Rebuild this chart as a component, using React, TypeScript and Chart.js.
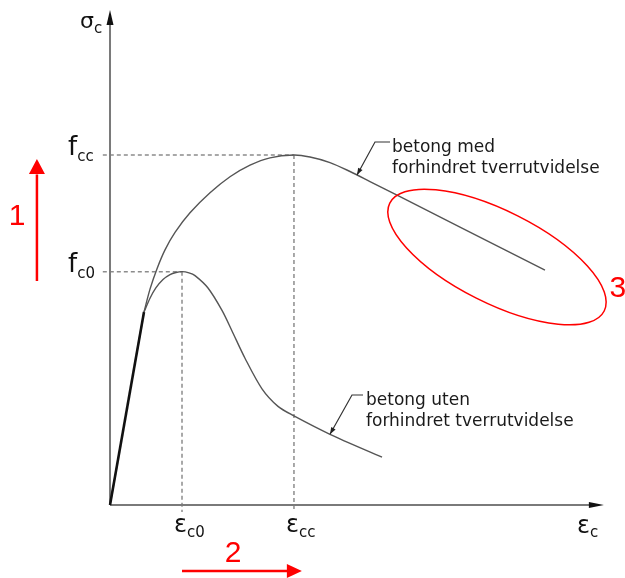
import React, { useEffect, useRef } from "react";
import { Chart, registerables } from "chart.js";

Chart.register(...registerables);

// Strain in ‰, stress in MPa
const EPS_C0 = 2.0;
const EPS_CC = 5.11;
const F_C0 = 30;
const F_CC = 45;

// Visible window of the diagram
const X_MIN = -3.056;
const X_MAX = 14.306;
const Y_MIN = -9.386;
const Y_MAX = 64.93;
const X_AXIS_END = 13.72;
const Y_AXIS_END = 63.64;

// Shared linear-elastic branch
const elasticStrain = [0, 0.944];
const elasticStress = [0, 24.81];

// Unconfined concrete
const unconfinedStrain = [0.944, 1.111, 1.278, 1.472, 1.667, 1.833, 2.0, 2.194, 2.361, 2.722, 3.111, 3.389, 3.75, 4.222, 4.667, 5.083, 6.111, 7.556];
const unconfinedStress = [24.81, 26.59, 27.94, 29.0, 29.63, 29.89, 30.0, 29.84, 29.49, 27.9, 25.02, 22.38, 18.87, 14.94, 12.68, 11.52, 9.09, 6.15];

// Confined concrete
const confinedStrain = [0.944, 1.111, 1.306, 1.528, 1.806, 2.222, 2.778, 3.333, 3.889, 4.444, 5.11, 5.556, 6.111, 6.667, 7.222, 8.056, 9.722, 12.083];
const confinedStress = [24.81, 27.75, 30.39, 32.81, 35.06, 37.57, 40.14, 42.2, 43.69, 44.64, 45.0, 44.74, 44.03, 42.88, 41.59, 39.64, 35.74, 30.21];

// Reference (peak) levels and their labels
const peakStrain = [EPS_C0, EPS_CC];
const peakStress = [F_C0, F_CC];
const stressLabelSubs = ["c0", "cc"];
const strainLabelSubs = ["c0", "cc"];

const labelConfined = ["betong med", "forhindret tverrutvidelse"];
const labelUnconfined = ["betong uten", "forhindret tverrutvidelse"];

const zip = (xs: number[], ys: number[]) => xs.map((x, i) => ({ x, y: ys[i] }));

const FONT = '"DejaVu Sans", Verdana, sans-serif';
const RED_FONT = '"Liberation Sans", Arial, sans-serif';

function drawSub(
  ctx: CanvasRenderingContext2D,
  main: string,
  sub: string,
  left: number,
  baseline: number,
  mainSize: number,
  subSize: number,
  drop: number
) {
  ctx.font = `${mainSize}px ${FONT}`;
  ctx.fillText(main, left, baseline);
  const w = ctx.measureText(main).width;
  ctx.font = `${subSize}px ${FONT}`;
  ctx.fillText(sub, left + w, baseline + drop);
}

function arrowHead(
  ctx: CanvasRenderingContext2D,
  tipX: number,
  tipY: number,
  fromX: number,
  fromY: number,
  len: number,
  half: number
) {
  const a = Math.atan2(tipY - fromY, tipX - fromX);
  const bx = tipX - len * Math.cos(a);
  const by = tipY - len * Math.sin(a);
  ctx.beginPath();
  ctx.moveTo(tipX, tipY);
  ctx.lineTo(bx + half * Math.sin(a), by - half * Math.cos(a));
  ctx.lineTo(bx - half * Math.sin(a), by + half * Math.cos(a));
  ctx.closePath();
  ctx.fill();
}

const decorations = {
  id: "stressStrainDecor",
  beforeDatasetsDraw(chart: any) {
    const { ctx } = chart;
    const X = (v: number) => chart.scales.x.getPixelForValue(v);
    const Y = (v: number) => chart.scales.y.getPixelForValue(v);
    ctx.save();

    // dashed guides to the peaks
    ctx.strokeStyle = "#8c8c8c";
    ctx.lineWidth = 1.5;
    ctx.setLineDash([4, 3]);
    peakStrain.forEach((e, i) => {
      const s = peakStress[i];
      ctx.beginPath();
      ctx.moveTo(X(-0.2), Y(s));
      ctx.lineTo(X(e), Y(s));
      ctx.stroke();
      ctx.beginPath();
      ctx.moveTo(X(e), Y(s));
      ctx.lineTo(X(e), Y(-0.9));
      ctx.stroke();
    });
    ctx.setLineDash([]);

    // axes
    const ox = X(0);
    const oy = Y(0);
    const yTip = Y(Y_AXIS_END);
    const xTip = X(X_AXIS_END);
    ctx.strokeStyle = "#7a7a7a";
    ctx.lineWidth = 2;
    ctx.beginPath();
    ctx.moveTo(ox, oy);
    ctx.lineTo(ox, yTip + 12);
    ctx.moveTo(ox, oy);
    ctx.lineTo(xTip - 12, oy);
    ctx.stroke();
    ctx.fillStyle = "#111";
    arrowHead(ctx, ox, yTip, ox, oy, 15, 3.5);
    arrowHead(ctx, xTip, oy, ox, oy, 15, 3);
    ctx.restore();
  },
  afterDatasetsDraw(chart: any) {
    const { ctx } = chart;
    const X = (v: number) => chart.scales.x.getPixelForValue(v);
    const Y = (v: number) => chart.scales.y.getPixelForValue(v);
    const ox = X(0);
    const oy = Y(0);
    ctx.save();
    ctx.fillStyle = "#111";
    ctx.textAlign = "left";
    ctx.textBaseline = "alphabetic";

    // axis titles
    drawSub(ctx, "σ", "c", ox - 30, Y(Y_AXIS_END) + 18, 22, 15, 5);
    drawSub(ctx, "ε", "c", X(X_AXIS_END) - 27, oy + 28, 24, 15, 4);

    // stress labels
    peakStress.forEach((s, i) => {
      drawSub(ctx, "f", stressLabelSubs[i], ox - 42, Y(s), 26, 15, 6);
    });
    // strain labels
    peakStrain.forEach((e, i) => {
      drawSub(ctx, "ε", strainLabelSubs[i], X(e) - 8, oy + 27, 24, 15, 5);
    });

    // leader for the confined curve
    ctx.strokeStyle = "#333";
    ctx.lineWidth = 1.2;
    const cTip = { x: X(6.861), y: Y(42.43) };
    const cElbow = { x: X(7.361), y: Y(46.67) };
    const cEnd = { x: X(7.778), y: Y(46.67) };
    ctx.beginPath();
    ctx.moveTo(cEnd.x, cEnd.y);
    ctx.lineTo(cElbow.x, cElbow.y);
    ctx.lineTo(cTip.x, cTip.y);
    ctx.stroke();
    ctx.fillStyle = "#222";
    arrowHead(ctx, cTip.x, cTip.y, cElbow.x, cElbow.y, 7, 2.5);

    // leader for the unconfined curve
    const uTip = { x: X(6.111), y: Y(9.09) };
    const uElbow = { x: X(6.722), y: Y(14.14) };
    const uEnd = { x: X(7.028), y: Y(14.14) };
    ctx.beginPath();
    ctx.moveTo(uEnd.x, uEnd.y);
    ctx.lineTo(uElbow.x, uElbow.y);
    ctx.lineTo(uTip.x, uTip.y);
    ctx.stroke();
    arrowHead(ctx, uTip.x, uTip.y, uElbow.x, uElbow.y, 7, 2.5);

    // curve captions
    ctx.fillStyle = "#1a1a1a";
    ctx.font = `17px ${FONT}`;
    labelConfined.forEach((t, i) => ctx.fillText(t, X(7.833), cEnd.y + 10 + i * 21));
    labelUnconfined.forEach((t, i) => ctx.fillText(t, X(7.111), uEnd.y + 10 + i * 21));

    // red markings
    const red = "#ff0000";
    ctx.strokeStyle = red;
    ctx.fillStyle = red;
    ctx.lineWidth = 2.5;

    // 1: stress increase arrow
    const ax = X(-2.03);
    ctx.beginPath();
    ctx.moveTo(ax, Y(28.8));
    ctx.lineTo(ax, Y(42.5));
    ctx.stroke();
    arrowHead(ctx, ax, Y(44.5), ax, Y(28.8), 15, 8);

    // 2: strain increase arrow
    const ay = Y(-8.48);
    ctx.beginPath();
    ctx.moveTo(X(2.0), ay);
    ctx.lineTo(X(4.95), ay);
    ctx.stroke();
    arrowHead(ctx, X(5.33), ay, X(2.0), ay, 15, 7);

    // 3: ellipse around the descending branch
    ctx.lineWidth = 1.5;
    ctx.beginPath();
    ctx.ellipse(X(10.75), Y(31.88), 120, 46, (26.7 * Math.PI) / 180, 0, Math.PI * 2);
    ctx.stroke();

    ctx.font = `30px ${RED_FONT}`;
    ctx.textAlign = "center";
    ctx.fillText("1", X(-2.583), Y(35.99));
    ctx.fillText("2", X(3.417), Y(-7.33));
    ctx.fillText("3", X(14.11), Y(26.74));
    ctx.restore();
  },
};

export default function App() {
  const canvasRef = useRef<HTMLCanvasElement | null>(null);

  useEffect(() => {
    document.body.style.margin = "0";
    document.body.style.overflow = "hidden";
    const canvas = canvasRef.current;
    if (!canvas) return;
    const chart = new Chart(canvas, {
      type: "line",
      data: {
        datasets: [
          {
            data: zip(confinedStrain, confinedStress),
            borderColor: "#555",
            borderWidth: 1.4,
            pointRadius: 0,
            tension: 0.3,
          },
          {
            data: zip(unconfinedStrain, unconfinedStress),
            borderColor: "#555",
            borderWidth: 1.4,
            pointRadius: 0,
            tension: 0.3,
          },
          {
            data: zip(elasticStrain, elasticStress),
            borderColor: "#111",
            borderWidth: 2.6,
            pointRadius: 0,
          },
        ],
      },
      options: {
        animation: false,
        responsive: false,
        devicePixelRatio: 1,
        layout: { padding: 0 },
        plugins: { legend: { display: false }, tooltip: { enabled: false } },
        scales: {
          x: { type: "linear", min: X_MIN, max: X_MAX, display: false },
          y: { type: "linear", min: Y_MIN, max: Y_MAX, display: false },
        },
      },
      plugins: [decorations],
    });
    return () => chart.destroy();
  }, []);

  return (
    <div style={{ width: 625, height: 578, background: "#fff" }}>
      <canvas ref={canvasRef} width={625} height={578} />
    </div>
  );
}
